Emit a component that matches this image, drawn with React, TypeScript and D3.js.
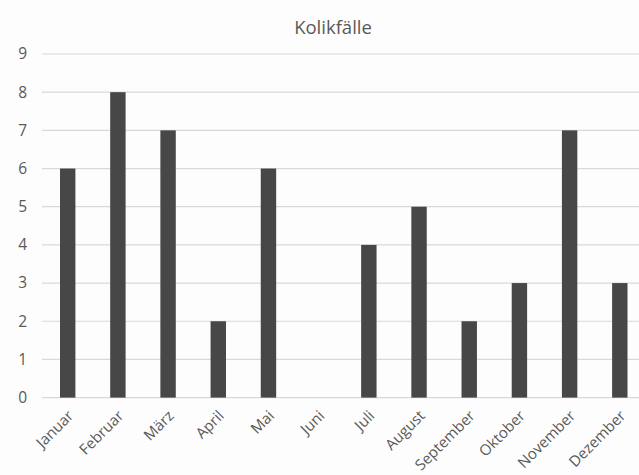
import React from "react";
import * as d3 from "d3";

const months = ["Januar", "Februar", "März", "April", "Mai", "Juni", "Juli", "August", "September", "Oktober", "November", "Dezember"];
const cases = [6, 8, 7, 2, 6, 0, 4, 5, 2, 3, 7, 3];
const yTicks = [0, 1, 2, 3, 4, 5, 6, 7, 8, 9];
const title = "Kolikfälle";

const W = 639;
const H = 475;
const font = "'Open Sans', 'Noto Sans', sans-serif";

export default function App() {
  const x = d3.scaleBand<string>().domain(months).range([42.6, 644.9]).padding(0);
  const y = d3.scaleLinear().domain([0, 9]).range([397.6, 54]);
  const barW = x.bandwidth() * 0.307;

  return (
    <svg width={W} height={H} style={{ position: "absolute", left: 0, top: 0, background: "#fdfdfd" }}>
      <rect x={0} y={0} width={W} height={H} fill="#fdfdfd" />
      <text x={333} y={34} textAnchor="middle" fontFamily={font} fontSize={18.5} fill="#595959">
        {title}
      </text>
      {yTicks.map((t) => (
        <g key={t}>
          <line x1={42} x2={W} y1={y(t)} y2={y(t)} stroke="#d9d9d9" strokeWidth={1.2} />
          <text x={27} y={y(t)} dy="0.35em" textAnchor="end" fontFamily={font} fontSize={15.5} fill="#595959">
            {t}
          </text>
        </g>
      ))}
      {months.map((m, i) => {
        const cx = (x(m) as number) + x.bandwidth() / 2;
        return (
          <g key={m}>
            {cases[i] > 0 && (
              <rect x={cx - barW / 2} y={y(cases[i])} width={barW} height={y(0) - y(cases[i])} fill="#474747" />
            )}
            <text
              transform={`translate(${cx + 3},${413}) rotate(-45)`}
              textAnchor="end"
              dy="0.35em"
              fontFamily={font}
              fontSize={15}
              fill="#595959"
            >
              {m}
            </text>
          </g>
        );
      })}
    </svg>
  );
}
